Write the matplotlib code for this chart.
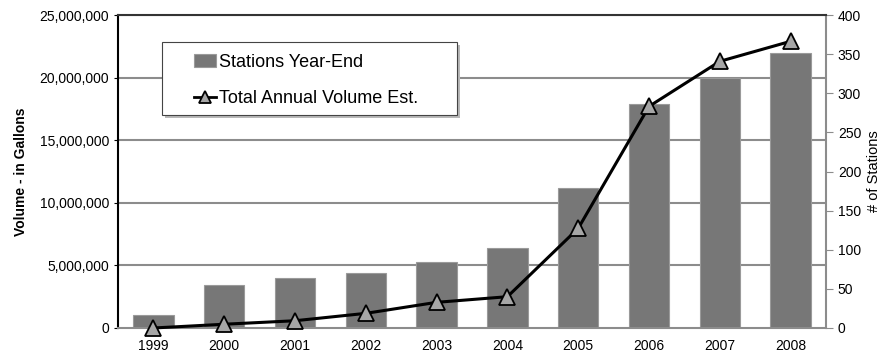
import matplotlib.pyplot as plt
import numpy as np
from matplotlib.patches import Rectangle
from matplotlib.ticker import FuncFormatter, MultipleLocator

plt.rcParams['font.family'] = ['Liberation Sans', 'DejaVu Sans']

years = ['1999', '2000', '2001', '2002', '2003', '2004', '2005', '2006', '2007', '2008']
stations = [17, 55, 64, 70, 84, 102, 179, 286, 319, 352]
volume = [0, 300000, 580000, 1170000, 2050000, 2500000, 7960000, 17700000, 21300000, 22900000]

fig = plt.figure(figsize=(8.83, 3.6), dpi=100)
ax = fig.add_axes([0.1336, 0.0889, 0.8019, 0.8694])
ax2 = ax.twinx()

x = np.arange(len(years))

# stations go on the right axis, but draw them behind the volume line
bars = ax2.bar(x, stations, width=0.57, color='#777777', edgecolor='#9a9a9a',
               linewidth=0.8, label='Stations Year-End', zorder=2)
ax2.set_ylim(0, 400)
ax2.yaxis.set_major_locator(MultipleLocator(50))
ax2.set_ylabel('# of Stations', fontsize=10.5, labelpad=4)

ax.set_zorder(ax2.get_zorder() + 1)
ax.patch.set_visible(False)
line, = ax.plot(x, volume, color='black', linewidth=2.2, marker='^',
                markersize=11, markerfacecolor='#a6a6a6', markeredgecolor='black',
                markeredgewidth=1.3, label='Total Annual Volume Est.', clip_on=False, zorder=5)
ax.set_ylim(0, 25000000)
ax.set_xlim(-0.5, len(years) - 0.5)
ax.yaxis.set_major_locator(MultipleLocator(5000000))
ax.yaxis.set_major_formatter(FuncFormatter(lambda v, p: f'{int(v):,}'))
ax.set_ylabel('Volume - in Gallons', fontsize=10, fontweight='bold', labelpad=8)
ax.set_xticks(x)
ax.set_xticklabels(years)

# gridlines live on the bar axes so they sit under the bars
for v in np.arange(5000000, 25000001, 5000000):
    ax2.axhline(v / 25000000 * 400, color='#8c8c8c', linewidth=1.5, zorder=1)

for a in (ax, ax2):
    a.tick_params(labelsize=10, colors='black')
ax.tick_params(axis='x', length=0, pad=8)
ax.tick_params(axis='y', length=3, color='black')
ax2.tick_params(axis='y', length=5, color='#8c8c8c', direction='out')

ax.spines['left'].set_color('black')
ax.spines['left'].set_linewidth(1.5)
ax.spines['top'].set_color('#333333')
ax.spines['top'].set_linewidth(1.5)
ax.spines['bottom'].set_color('#8c8c8c')
ax.spines['bottom'].set_linewidth(1.5)
ax.spines['right'].set_color('#8c8c8c')
ax.spines['right'].set_linewidth(1.5)
for s in ax2.spines.values():
    s.set_visible(False)

# legend box with a drop shadow, drawn by hand for the wide side padding
bx, by, bw, bh = 0.062, 0.681, 0.417, 0.233
ax.add_patch(Rectangle((bx + 0.0045, by - 0.0105), bw, bh, transform=ax.transAxes,
                       facecolor='#b8b8b8', edgecolor='none', zorder=7))
ax.add_patch(Rectangle((bx, by), bw, bh, transform=ax.transAxes,
                       facecolor='white', edgecolor='#444444', linewidth=0.8, zorder=8))

leg = ax.legend([bars, line], ['Stations Year-End', 'Total Annual Volume Est.'],
                loc='upper left', bbox_to_anchor=(0.108, 0.877), fontsize=13,
                frameon=False, handlelength=1.2, handletextpad=0.15,
                borderpad=0, labelspacing=1.08, borderaxespad=0)
leg.legend_handles[1].set_markersize(8)
leg.legend_handles[1].set_linewidth(2)
leg.set_zorder(10)

fig.savefig('out.png', dpi=100)
